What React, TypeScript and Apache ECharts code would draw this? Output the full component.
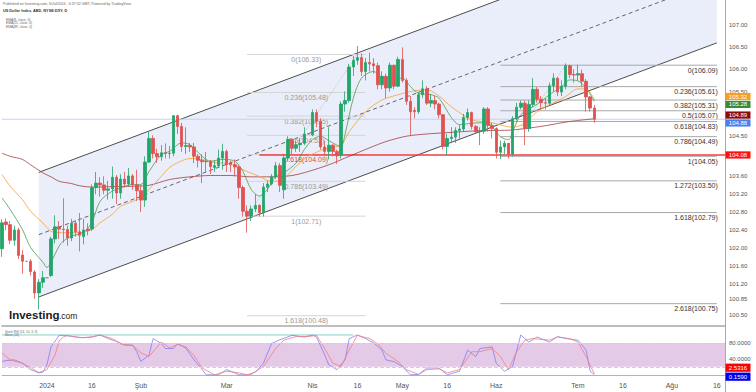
import React, { useEffect, useRef } from "react";
import * as echarts from "echarts";

const FONT = '"Liberation Sans", Arial, Helvetica, sans-serif';
const CATEGORY_COUNT = 178; // weekdays from 2023-12-15 to 2024-08-20
const GRID_LEFT = 2;
const GRID_RIGHT = 31;

// Daily candles from 2023-12-15: [open, close, low, high]
const CANDLES: number[][] = [
  [101.98, 102.56, 101.8, 102.64], [102.58, 102.52, 102.4, 102.66], [102.52, 102.17, 102.08, 102.6],
  [102.17, 102.4, 102.05, 102.5], [102.4, 101.83, 101.75, 102.45], [101.84, 101.7, 101.42, 101.95],
  [101.7, 101.7, 101.7, 101.7], [101.7, 101.47, 101.38, 101.75], [101.46, 100.99, 100.86, 101.5],
  [100.99, 101.23, 100.62, 101.3], [101.23, 101.33, 101.1, 101.48], [101.33, 101.33, 101.33, 101.33],
  [101.38, 102.2, 101.35, 102.25], [102.2, 102.47, 102.1, 102.73], [102.47, 102.42, 102.2, 102.6],
  [102.42, 102.41, 102.12, 103.11], [102.41, 102.22, 102.05, 102.5], [102.22, 102.55, 102.15, 102.65],
  [102.55, 102.36, 102.25, 102.62], [102.36, 102.28, 101.92, 102.78], [102.25, 102.4, 102.08, 102.65],
  [102.42, 102.39, 102.28, 102.55], [102.42, 103.35, 102.38, 103.42], [103.35, 103.45, 103.2, 103.7],
  [103.45, 103.41, 103.15, 103.58], [103.41, 103.29, 103.2, 103.6], [103.29, 103.32, 103.08, 103.5],
  [103.32, 103.58, 103.1, 103.82], [103.58, 103.23, 102.98, 103.63], [103.23, 103.54, 103.1, 103.65],
  [103.54, 103.43, 103.35, 103.7], [103.43, 103.61, 103.38, 103.79], [103.61, 103.41, 103.3, 103.65],
  [103.41, 103.28, 103.05, 103.75], [103.28, 103.07, 102.8, 103.4], [103.07, 103.92, 102.92, 104.05],
  [103.92, 104.45, 103.9, 104.6], [104.45, 104.11, 104.0, 104.52], [104.11, 104.04, 103.9, 104.22],
  [104.04, 104.13, 103.95, 104.3], [104.13, 104.11, 104.0, 104.34], [104.11, 104.12, 104.0, 104.28],
  [104.12, 104.96, 104.05, 104.97], [104.96, 104.72, 104.55, 104.98], [104.72, 104.27, 104.15, 104.8],
  [104.27, 104.29, 104.1, 104.7], [104.29, 104.26, 104.15, 104.35], [104.26, 104.05, 103.9, 104.35],
  [104.05, 103.96, 103.8, 104.1], [103.96, 103.93, 103.45, 104.1], [103.93, 103.94, 103.7, 104.15],
  [103.94, 103.82, 103.65, 103.97], [103.8, 103.84, 103.7, 103.95], [103.84, 104.01, 103.8, 104.2],
  [104.01, 104.16, 103.75, 104.33], [104.16, 103.86, 103.7, 104.2], [103.9, 103.86, 103.7, 103.95],
  [103.86, 103.81, 103.6, 103.98], [103.81, 103.35, 103.1, 103.85], [103.35, 102.82, 102.7, 103.4],
  [102.82, 102.71, 102.34, 102.95], [102.71, 102.87, 102.6, 102.95], [102.87, 102.95, 102.8, 103.2],
  [102.95, 102.79, 102.7, 102.98], [102.79, 103.36, 102.7, 103.45], [103.36, 103.43, 103.25, 103.5],
  [103.43, 103.59, 103.4, 103.65], [103.59, 103.84, 103.55, 103.92], [103.84, 103.4, 103.25, 103.9],
  [103.3, 104.01, 103.1, 104.1], [104.01, 104.43, 103.95, 104.5], [104.43, 104.23, 104.1, 104.45],
  [104.23, 104.31, 104.15, 104.4], [104.31, 104.34, 104.15, 104.45], [104.34, 104.55, 104.3, 104.7],
  [104.55, 104.55, 104.55, 104.55], [104.53, 105.03, 104.5, 105.1], [105.03, 104.83, 104.7, 105.1],
  [104.83, 104.26, 104.2, 104.9], [104.26, 104.16, 104.05, 104.4], [104.16, 104.3, 103.98, 104.7],
  [104.3, 104.16, 104.05, 104.32], [104.16, 104.06, 103.88, 104.2], [104.08, 105.22, 104.0, 105.28],
  [105.22, 105.3, 105.05, 105.5], [105.3, 106.05, 105.25, 106.12], [106.05, 106.2, 105.85, 106.3],
  [106.2, 106.26, 106.1, 106.52], [106.26, 105.95, 105.85, 106.35], [105.95, 106.15, 105.75, 106.25],
  [106.15, 106.12, 105.95, 106.37], [106.12, 106.08, 105.9, 106.25], [106.08, 105.65, 105.55, 106.15],
  [105.65, 105.84, 105.55, 105.95], [105.84, 105.58, 105.35, 105.9], [105.58, 106.09, 105.5, 106.15],
  [106.09, 105.62, 105.55, 106.1], [105.62, 106.22, 105.6, 106.28], [106.22, 105.75, 105.7, 106.49],
  [105.75, 105.28, 105.2, 105.8], [105.28, 105.05, 104.52, 105.4], [105.08, 105.05, 104.9, 105.15],
  [105.05, 105.43, 105.0, 105.5], [105.43, 105.56, 105.35, 105.75], [105.56, 105.24, 105.2, 105.62],
  [105.24, 105.3, 105.15, 105.45], [105.3, 105.22, 105.1, 105.4], [105.22, 104.98, 104.9, 105.25],
  [104.98, 104.27, 104.2, 105.0], [104.27, 104.45, 104.08, 104.55], [104.45, 104.48, 104.35, 104.7],
  [104.48, 104.63, 104.35, 104.7], [104.63, 104.66, 104.45, 104.75], [104.66, 104.92, 104.6, 105.0],
  [104.92, 105.03, 104.85, 105.12], [105.03, 104.72, 104.65, 105.05], [104.72, 104.6, 104.55, 104.75],
  [104.6, 104.61, 104.3, 104.7], [104.61, 105.11, 104.55, 105.15], [105.11, 104.74, 104.6, 105.15],
  [104.74, 104.67, 104.45, 104.8], [104.67, 104.14, 104.0, 104.7], [104.14, 104.26, 103.99, 104.4],
  [104.26, 104.34, 104.1, 104.4], [104.34, 104.1, 104.0, 104.35], [104.1, 104.89, 104.05, 104.95],
  [104.89, 105.15, 104.85, 105.25], [105.15, 105.24, 105.1, 105.3], [105.24, 104.67, 104.3, 105.3],
  [104.67, 105.21, 104.6, 105.3], [105.21, 105.55, 105.15, 105.8], [105.55, 105.33, 105.25, 105.6],
  [105.33, 105.25, 105.1, 105.4], [105.25, 105.24, 105.1, 105.35], [105.24, 105.63, 105.2, 105.7],
  [105.63, 105.8, 105.5, 105.91], [105.8, 105.49, 105.4, 105.82], [105.49, 105.62, 105.4, 105.75],
  [105.62, 106.08, 105.55, 106.13], [106.08, 105.88, 105.8, 106.1], [105.88, 105.87, 105.7, 106.0],
  [105.87, 105.9, 105.75, 106.1], [105.9, 105.73, 105.6, 105.99], [105.73, 105.38, 105.05, 105.78],
  [105.38, 105.13, 105.05, 105.4], [105.13, 104.88, 104.8, 105.2],
];

// Moving averages: [bar index, value]
const EMA_FAST: number[][] = [
  [0, 103.12], [2, 102.86], [5, 102.41], [7, 102.01], [10, 101.68], [11, 101.56], [12, 101.68], [14, 102.04],
  [15, 102.15], [17, 102.26], [20, 102.35], [22, 102.57], [24, 103.04], [27, 103.27], [29, 103.34], [32, 103.42],
  [34, 103.42], [36, 103.71], [39, 104.09], [41, 104.16], [44, 104.35], [46, 104.31], [49, 104.05], [51, 103.94],
  [54, 103.98], [57, 103.94], [59, 103.71], [61, 103.31], [63, 103.16], [65, 103.31], [67, 103.6], [69, 103.68],
  [72, 103.9], [74, 104.2], [76, 104.42], [78, 104.5], [80, 104.4], [82, 104.3], [83, 104.27], [84, 104.55],
  [86, 105.35], [88, 105.8], [91, 105.95], [93, 105.82], [96, 105.8], [98, 105.8], [100, 105.61], [102, 105.46],
  [105, 105.43], [107, 105.35], [110, 104.92], [112, 104.76], [115, 104.79], [117, 104.8], [119, 104.79],
  [122, 104.49], [124, 104.42], [125, 104.6], [127, 104.98], [130, 105.16], [132, 105.28], [134, 105.43],
  [137, 105.61], [139, 105.76], [141, 105.74], [143, 105.58], [145, 105.28],
];
const EMA_MID: number[][] = [
  [0, 103.64], [2, 103.38], [5, 103.08], [7, 102.82], [10, 102.56], [12, 102.37], [14, 102.34], [17, 102.34],
  [19, 102.34], [22, 102.41], [24, 102.56], [27, 102.75], [29, 102.93], [32, 103.04], [34, 103.12], [36, 103.31],
  [39, 103.6], [41, 103.8], [44, 103.95], [46, 104.0], [49, 103.98], [51, 103.92], [54, 103.9], [57, 103.86],
  [59, 103.75], [63, 103.6], [65, 103.51], [67, 103.49], [70, 103.64], [72, 103.83], [75, 104.05], [78, 104.18],
  [80, 104.24], [83, 104.3], [85, 104.6], [89, 105.05], [93, 105.31], [97, 105.43], [100, 105.5], [104, 105.54],
  [107, 105.4], [110, 105.16], [115, 104.87], [120, 104.8], [125, 104.7], [128, 104.79], [131, 105.05],
  [134, 105.2], [138, 105.39], [141, 105.56], [143, 105.56], [145, 105.32],
];
const EMA_SLOW: number[][] = [
  [0, 104.12], [2, 104.05], [5, 103.98], [7, 103.86], [10, 103.68], [12, 103.59], [14, 103.49], [17, 103.44],
  [19, 103.39], [22, 103.36], [27, 103.37], [32, 103.38], [36, 103.4], [41, 103.53], [46, 103.59], [51, 103.62],
  [56, 103.62], [61, 103.59], [66, 103.59], [71, 103.62], [75, 103.71], [80, 103.86], [85, 104.05], [90, 104.24],
  [94, 104.38], [99, 104.5], [104, 104.55], [109, 104.58], [116, 104.62], [121, 104.63], [125, 104.64],
  [132, 104.72], [139, 104.83], [145, 104.89],
];

// Stochastic RSI lines: [bar index, value]
const STOCH_K: number[][] = [
  [0, 33.4], [1, 35.8], [3, 37.5], [5, 29.4], [7, 13], [9, 4.9], [10, 6.4], [11, 25], [12, 70], [14, 99], [15, 99],
  [17, 96.4], [20, 93], [22, 94.8], [24, 100], [26, 90.8], [28, 84], [30, 74.4], [32, 74], [33, 58], [34, 33.4],
  [36, 50], [37, 90.8], [39, 78.5], [40, 66], [42, 66], [43, 78.5], [45, 67], [47, 37.5], [49, 13], [50, 0], [53, 0],
  [55, 13], [56, 9], [58, 0], [60, 0], [62, 6.4], [64, 29], [66, 78.5], [68, 88], [71, 99], [74, 94.8], [76, 100],
  [77, 95], [79, 50], [80, 25], [82, 13], [84, 37.5], [85, 90.8], [87, 100], [89, 91], [91, 80], [93, 62], [94, 37.5],
  [96, 33], [98, 21], [100, 0], [102, 1], [104, 17], [107, 17], [109, 0], [112, 9], [114, 62], [116, 45.6], [117, 66],
  [120, 70], [121, 29], [123, 9], [125, 21], [127, 100], [129, 82], [131, 95], [134, 82], [136, 96], [138, 91],
  [141, 87], [143, 62], [144, 9], [145, 0.159],
];
const STOCH_D: number[][] = [
  [0, 55], [2, 37.5], [5, 29], [7, 18], [9, 6], [11, 13], [13, 50], [14, 85], [15, 95], [16, 99], [19, 93], [22, 95],
  [24, 100], [27, 91], [29, 78], [32, 74], [34, 55], [36, 46], [38, 70], [39, 82], [41, 68], [43, 76], [45, 70],
  [47, 48], [49, 17], [52, 0], [55, 9], [58, 5], [60, 0], [61, 1], [64, 21], [67, 66], [69, 87], [72, 96], [75, 96],
  [77, 99], [79, 66], [81, 29], [83, 21], [85, 62], [87, 99], [90, 91], [92, 78], [94, 54], [97, 33], [99, 13],
  [102, 1], [104, 13], [107, 15], [109, 5], [112, 13], [115, 58], [117, 58], [120, 66], [122, 46], [124, 13],
  [126, 58], [128, 87], [130, 91], [134, 87], [136, 95], [139, 91], [141, 82], [143, 46], [145, 2.5316],
];

const PRICE_TICKS = ["107.00", "106.50", "106.00", "105.50", "104.50", "103.60", "103.20", "102.80",
  "102.40", "102.00", "101.60", "101.20", "100.85", "100.50"];
const STOCH_TICKS = ["80.0000", "40.0000"];

const X_LABELS: Record<string, string> = {
  "2024-01-01": "2024", "2024-01-16": "16", "2024-02-01": "Şub", "2024-03-01": "Mar", "2024-04-01": "Nis",
  "2024-04-16": "16", "2024-05-01": "May", "2024-05-16": "16", "2024-06-03": "Haz", "2024-07-01": "Tem",
  "2024-07-16": "16", "2024-08-01": "Ağu", "2024-08-16": "16",
};

// Drawings (anchor bar index, price)
const CHANNEL_X = [9, 175];
const CHANNEL_LOWER = [100.9, 106.59];
const CHANNEL_UPPER = [103.69, 109.38];

const FIB_LEFT_RANGE = [60, 89];
const FIB_LEFT_RATIOS = ["0", "0.236", "0.382", "0.5", "0.618", "0.786", "1", "1.618"];
const FIB_LEFT_PRICES = [106.33, 105.48, 104.95, 104.52, 104.09, 103.49, 102.71, 100.48];
const FIB_LEFT_TREND = [[60, 102.71], [87, 106.33]];

const FIB_RIGHT_RANGE = [122, 175];
const FIB_RIGHT_RATIOS = ["0", "0.236", "0.382", "0.5", "0.618", "0.786", "1", "1.272", "1.618", "2.618"];
const FIB_RIGHT_PRICES = [106.09, 105.61, 105.31, 105.07, 104.83, 104.49, 104.05, 103.5, 102.79, 100.75];
const FIB_RIGHT_TREND = [[122, 104.05], [138, 106.09]];

const SUPPORT_LINE = [[63, 104.08], [177, 104.08]];
const LAST_PRICE = 104.88;
const STOCH_TOP_LINE = [[0, 100], [86, 100]];

const HEADER = "Published on Investing.com, 6/Jul/2024 - 6:37:32 GMT, Powered by TradingView";
const TITLE = "US Dollar Index, ABD, NYSE:DXY, D";
const MA_LEGEND = ["EMA(8, close, 0)", "EMA(21, close, 0)", "EMA(89, close, 0)"];
const STOCH_LEGEND = ["Stoch RSI (14, 14, 3, 3)", "Mean (20)"];

const UP = "#22a56a";
const DOWN = "#e0524f";
const RED = "#f53b3b";
const C_FAST = "rgba(70,150,70,0.75)";
const C_MID = "rgba(247,170,70,0.9)";
const C_SLOW = "rgba(160,50,50,0.75)";

function buildDates(): string[] {
  const out: string[] = [];
  const d = new Date(Date.UTC(2023, 11, 15));
  while (out.length < CATEGORY_COUNT) {
    const day = d.getUTCDay();
    if (day !== 0 && day !== 6) out.push(d.toISOString().slice(0, 10));
    d.setUTCDate(d.getUTCDate() + 1);
  }
  return out;
}

function txt(style: any) {
  return {
    ...style,
    textAlign: style.align,
    textVerticalAlign: style.verticalAlign,
  };
}

function fibRenderer(range: number[], prices: number[], ratios: string[], opts: any) {
  return (params: any, api: any) => {
    const i = params.dataIndex;
    const a = api.coord([range[0], prices[i]]);
    const b = api.coord([range[1], prices[i]]);
    const isRed = opts.redIndex === i;
    const label = `${ratios[i]}(${prices[i].toFixed(2)})`;
    const tx = opts.align === "center" ? (a[0] + b[0]) / 2 : b[0] + 1;
    return {
      type: "group",
      children: [
        {
          type: "line",
          shape: { x1: a[0], y1: a[1], x2: b[0], y2: b[1] },
          style: { stroke: opts.lineColor, lineWidth: 1 },
        },
        {
          type: "text",
          x: tx,
          y: a[1] + 1.5,
          style: txt({
            text: label,
            fill: isRed ? RED : opts.textColor,
            fontSize: 7,
            fontFamily: FONT,
            align: opts.align,
            verticalAlign: "top",
          }),
        },
      ],
    };
  };
}

function buildOption() {
  const dates = buildDates();
  return {
    animation: false,
    backgroundColor: "#ffffff",
    textStyle: { fontFamily: FONT },
    grid: [
      { left: GRID_LEFT, right: GRID_RIGHT, top: 0, height: 326 },
      { left: GRID_LEFT, right: GRID_RIGHT, top: 327, height: 51 },
    ],
    xAxis: [
      {
        type: "category", gridIndex: 0, data: dates, boundaryGap: false,
        axisLine: { show: true, lineStyle: { color: "#a8a8a8", width: 1.5 } },
        axisTick: { show: false }, axisLabel: { show: false }, splitLine: { show: false },
      },
      {
        type: "category", gridIndex: 1, data: dates, boundaryGap: false,
        axisLine: { show: true, lineStyle: { color: "#b4b4b4", width: 1 } },
        axisTick: { show: false }, splitLine: { show: false },
        axisLabel: {
          interval: (_i: number, v: string) => !!X_LABELS[v],
          formatter: (v: string) => X_LABELS[v] || "",
          fontSize: 7, color: "#555", margin: 4, fontFamily: FONT,
        },
      },
    ],
    yAxis: [
      {
        type: "value", gridIndex: 0, position: "right", min: 100.25, max: 107.55, interval: 0.05,
        axisLine: { show: false }, axisTick: { show: false }, splitLine: { show: false },
        axisLabel: {
          fontSize: 6, color: "#555", margin: 4, fontFamily: FONT,
          formatter: (v: number) => {
            const k = Math.round(v * 100);
            const hit = PRICE_TICKS.find((t) => Math.round(parseFloat(t) * 100) === k);
            return hit || "";
          },
        },
      },
      {
        type: "value", gridIndex: 1, position: "right", min: -8, max: 120, interval: 8,
        axisLine: { show: false }, axisTick: { show: false }, splitLine: { show: false },
        axisLabel: {
          fontSize: 6, color: "#555", margin: 4, fontFamily: FONT,
          formatter: (v: number) => {
            const hit = STOCH_TICKS.find((t) => Math.abs(parseFloat(t) - v) < 1e-6);
            return hit || "";
          },
        },
      },
    ],
    series: [
      {
        type: "custom", name: "channel", xAxisIndex: 0, yAxisIndex: 0, z: 1, silent: true,
        data: [[CHANNEL_X[0], CHANNEL_LOWER[0]]],
        renderItem: (_p: any, api: any) => {
          const p1 = api.coord([CHANNEL_X[0], CHANNEL_LOWER[0]]);
          const p2 = api.coord([CHANNEL_X[1], CHANNEL_LOWER[1]]);
          const p3 = api.coord([CHANNEL_X[1], CHANNEL_UPPER[1]]);
          const p4 = api.coord([CHANNEL_X[0], CHANNEL_UPPER[0]]);
          const m1 = [(p1[0] + p4[0]) / 2, (p1[1] + p4[1]) / 2];
          const m2 = [(p2[0] + p3[0]) / 2, (p2[1] + p3[1]) / 2];
          return {
            type: "group",
            children: [
              { type: "polygon", shape: { points: [p1, p2, p3, p4] }, style: { fill: "#e9eefa" } },
              { type: "line", shape: { x1: p1[0], y1: p1[1], x2: p2[0], y2: p2[1] }, style: { stroke: "#4d4d4d", lineWidth: 1 } },
              { type: "line", shape: { x1: p4[0], y1: p4[1], x2: p3[0], y2: p3[1] }, style: { stroke: "#4d4d4d", lineWidth: 1 } },
              { type: "line", shape: { x1: m1[0], y1: m1[1], x2: m2[0], y2: m2[1] }, style: { stroke: "#666", lineWidth: 1, lineDash: [4, 3] } },
            ],
          };
        },
      },
      {
        type: "line", name: "lastPrice", xAxisIndex: 0, yAxisIndex: 0, z: 2, silent: true,
        data: [[0, LAST_PRICE], [CATEGORY_COUNT - 1, LAST_PRICE]], showSymbol: false,
        lineStyle: { color: "#c3d2f5", width: 1 },
      },
      {
        type: "custom", name: "fibLeft", xAxisIndex: 0, yAxisIndex: 0, z: 2, silent: true,
        data: FIB_LEFT_PRICES.map((p) => [FIB_LEFT_RANGE[0], p]),
        renderItem: fibRenderer(FIB_LEFT_RANGE, FIB_LEFT_PRICES, FIB_LEFT_RATIOS, {
          align: "center", lineColor: "#d4d4d4", textColor: "#9a9a9a", redIndex: 4,
        }),
      },
      {
        type: "custom", name: "fibRight", xAxisIndex: 0, yAxisIndex: 0, z: 2, silent: true,
        data: FIB_RIGHT_PRICES.map((p) => [FIB_RIGHT_RANGE[0], p]),
        renderItem: fibRenderer(FIB_RIGHT_RANGE, FIB_RIGHT_PRICES, FIB_RIGHT_RATIOS, {
          align: "right", lineColor: "#a8a8a8", textColor: "#333", redIndex: -1,
        }),
      },
      {
        type: "line", name: "fibLeftTrend", xAxisIndex: 0, yAxisIndex: 0, z: 2, silent: true,
        data: FIB_LEFT_TREND, showSymbol: false, lineStyle: { color: "#c4c4c4", width: 1, type: "dotted" },
      },
      {
        type: "line", name: "fibRightTrend", xAxisIndex: 0, yAxisIndex: 0, z: 2, silent: true,
        data: FIB_RIGHT_TREND, showSymbol: false, lineStyle: { color: "#c4c4c4", width: 1, type: "dotted" },
      },
      {
        type: "line", name: "support", xAxisIndex: 0, yAxisIndex: 0, z: 3, silent: true,
        data: SUPPORT_LINE, showSymbol: false, lineStyle: { color: RED, width: 1.6 },
      },
      {
        type: "line", name: "emaSlow", xAxisIndex: 0, yAxisIndex: 0, z: 4, silent: true,
        data: EMA_SLOW, showSymbol: false, smooth: 0.3, lineStyle: { color: C_SLOW, width: 1 },
      },
      {
        type: "line", name: "emaMid", xAxisIndex: 0, yAxisIndex: 0, z: 4, silent: true,
        data: EMA_MID, showSymbol: false, smooth: 0.3, lineStyle: { color: C_MID, width: 1 },
      },
      {
        type: "line", name: "emaFast", xAxisIndex: 0, yAxisIndex: 0, z: 4, silent: true,
        data: EMA_FAST, showSymbol: false, smooth: 0.3, lineStyle: { color: C_FAST, width: 1 },
      },
      {
        type: "candlestick", name: "DXY", xAxisIndex: 0, yAxisIndex: 0, z: 5, silent: true,
        data: CANDLES, barWidth: 3,
        itemStyle: { color: UP, color0: DOWN, borderColor: UP, borderColor0: DOWN, borderColorDoji: "#888", borderWidth: 0.8 },
      },
      {
        type: "line", name: "stochTop", xAxisIndex: 1, yAxisIndex: 1, z: 2, silent: true,
        data: STOCH_TOP_LINE, showSymbol: false, lineStyle: { color: "#86d2c6", width: 1 },
      },
      {
        type: "line", name: "K", xAxisIndex: 1, yAxisIndex: 1, z: 4, silent: true,
        data: STOCH_K, showSymbol: false, lineStyle: { color: "rgba(120,120,250,0.75)", width: 1 },
        markArea: {
          silent: true, itemStyle: { color: "#e4cae7" },
          data: [[{ yAxis: 20 }, { yAxis: 80 }]],
        },
        markLine: {
          silent: true, symbol: "none", label: { show: false },
          lineStyle: { color: "#d0d0d0", type: "dashed", width: 1 },
          data: [{ yAxis: 80 }, { yAxis: 20 }],
        },
      },
      {
        type: "line", name: "D", xAxisIndex: 1, yAxisIndex: 1, z: 4, silent: true,
        data: STOCH_D, showSymbol: false, lineStyle: { color: "rgba(245,125,125,0.8)", width: 1 },
      },
    ],
  };
}

function stackLabels(ys: number[], h: number): number[] {
  const sorted = ys.map((y, k) => ({ y, k })).sort((a, b) => a.y - b.y);
  let clusters = sorted.map((s) => ({ items: [s], center: s.y }));
  let merged = true;
  while (merged) {
    merged = false;
    for (let c = 0; c < clusters.length - 1; c++) {
      const A = clusters[c];
      const B = clusters[c + 1];
      const aBottom = A.center + (A.items.length * h) / 2;
      const bTop = B.center - (B.items.length * h) / 2;
      if (aBottom > bTop) {
        const items = [...A.items, ...B.items];
        const center = items.reduce((s, x) => s + x.y, 0) / items.length;
        clusters.splice(c, 2, { items, center });
        merged = true;
        break;
      }
    }
  }
  const res: number[] = [];
  clusters.forEach((cl) => {
    const top = cl.center - (cl.items.length * h) / 2;
    cl.items.forEach((it, j) => { res[it.k] = top + h * (j + 0.5); });
  });
  return res;
}

function buildGraphic(chart: any) {
  const W = chart.getWidth();
  const H = chart.getHeight();
  const axisX = W - GRID_RIGHT;
  const els: any[] = [];
  els.push({ type: "line", z: 50, shape: { x1: axisX + 0.5, y1: 0, x2: axisX + 0.5, y2: H }, style: { stroke: "#a8a8a8", lineWidth: 1 } });

  els.push({ type: "text", x: 3, y: 4, z: 60, style: txt({ text: HEADER, fill: "#666", fontSize: 3.6, fontFamily: FONT, align: "left", verticalAlign: "middle" }) });
  els.push({ type: "text", x: 3, y: 11, z: 60, style: txt({ text: TITLE, fill: "#333", fontSize: 3.8, fontWeight: "bold", fontFamily: FONT, align: "left", verticalAlign: "middle" }) });
  MA_LEGEND.forEach((t, i) => {
    els.push({ type: "text", x: 6, y: 19.5 + i * 3.5, z: 60, style: txt({ text: t, fill: "#666", fontSize: 3.3, fontFamily: FONT, align: "left", verticalAlign: "middle" }) });
  });
  STOCH_LEGEND.forEach((t, i) => {
    els.push({ type: "text", x: 5, y: 331.5 + i * 3.3, z: 60, style: txt({ text: t, fill: "#666", fontSize: 3.1, fontFamily: FONT, align: "left", verticalAlign: "middle" }) });
  });

  els.push({ type: "text", x: 9, y: 321, z: 60, style: txt({ text: "Investing", fill: "#1b1b1b", fontSize: 11.5, fontWeight: "bold", fontFamily: FONT, align: "left", verticalAlign: "bottom" }) });
  els.push({ type: "text", x: 59, y: 320.5, z: 60, style: txt({ text: ".com", fill: "#1b1b1b", fontSize: 8.5, fontFamily: FONT, align: "left", verticalAlign: "bottom" }) });

  const mainBoxes = [
    { v: EMA_MID[EMA_MID.length - 1][1], color: "#f7a01c" },
    { v: EMA_FAST[EMA_FAST.length - 1][1], color: "#3b8a3b" },
    { v: EMA_SLOW[EMA_SLOW.length - 1][1], color: "#8e0b0b" },
    { v: LAST_PRICE, color: "#4a7ff0" },
    { v: SUPPORT_LINE[0][1], color: "#ff1010" },
  ];
  const mainYs = stackLabels(mainBoxes.map((b) => chart.convertToPixel({ yAxisIndex: 0 }, b.v)), 7.9);
  mainBoxes.forEach((b, i) => {
    const cy = mainYs[i];
    els.push({ type: "rect", z: 70, shape: { x: axisX + 0.5, y: cy - 3.6, width: 25, height: 7.2 }, style: { fill: b.color } });
    els.push({ type: "text", x: axisX + 13, y: cy, z: 71, style: txt({ text: b.v.toFixed(2), fill: "#fff", fontSize: 6, fontFamily: FONT, align: "center", verticalAlign: "middle" }) });
  });

  const stochBoxes = [
    { v: STOCH_D[STOCH_D.length - 1][1], color: "#ff0000" },
    { v: STOCH_K[STOCH_K.length - 1][1], color: "#0000f0" },
  ];
  let stochYs = stackLabels(stochBoxes.map((b) => chart.convertToPixel({ yAxisIndex: 1 }, b.v)), 9);
  const maxY = Math.max(...stochYs);
  const limit = 376.7;
  if (maxY > limit) stochYs = stochYs.map((y) => y - (maxY - limit));
  stochBoxes.forEach((b, i) => {
    const cy = stochYs[i];
    els.push({ type: "rect", z: 70, shape: { x: axisX + 0.5, y: cy - 4.1, width: 25, height: 8.2 }, style: { fill: b.color } });
    els.push({ type: "text", x: axisX + 13, y: cy, z: 71, style: txt({ text: b.v.toFixed(4), fill: "#fff", fontSize: 6, fontFamily: FONT, align: "center", verticalAlign: "middle" }) });
  });
  return els;
}

export default function App() {
  const ref = useRef<HTMLDivElement>(null);
  useEffect(() => {
    document.body.style.margin = "0";
    const chart = echarts.init(ref.current as HTMLDivElement, null, { renderer: "svg" });
    chart.setOption(buildOption() as any);
    chart.setOption({ graphic: buildGraphic(chart) } as any);
    return () => chart.dispose();
  }, []);
  return <div ref={ref} style={{ width: 756, height: 392 }} />;
}
